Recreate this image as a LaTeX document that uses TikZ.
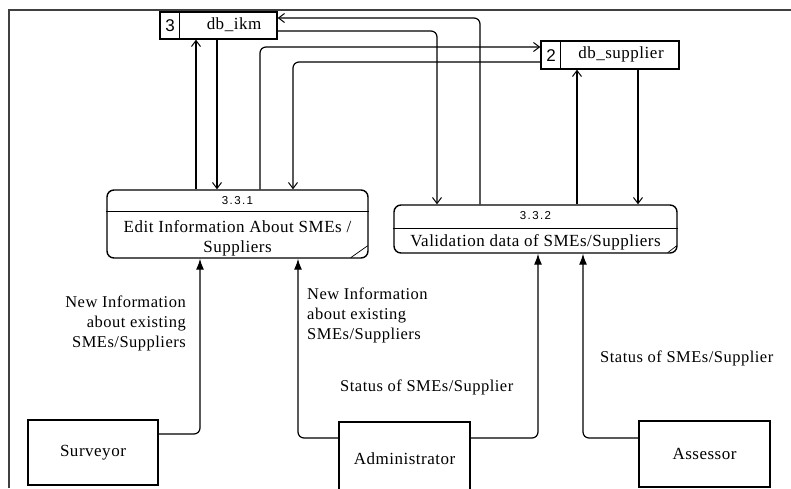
\documentclass[tikz,border=0pt]{standalone}
\usepackage{fontspec}
\setmainfont{Liberation Serif}
\newfontfamily\numfont{Liberation Sans}
\usetikzlibrary{arrows.meta}
\begin{document}
\begin{tikzpicture}[x=1pt,y=-1pt,
  box/.style={draw,line width=1.4pt,inner sep=0pt},
  storebox/.style={box,rectangle},
  procbox/.style={box,rectangle,rounded corners=7pt},
  entity/.style={box,rectangle},
  flow/.style={line width=1.2pt,rounded corners=6pt},
  barb/.style={-{Straight Barb[length=6pt,width=9pt,line width=1pt]}},
  toStore/.style={flow,barb},
  toProc/.style={flow,-{Latex[length=11pt,width=8pt]}},
  txt/.style={font=\fontsize{17}{20}\selectfont\addfontfeature{LetterSpace=3},inner sep=0pt},
  num/.style={font=\numfont\fontsize{11.5}{12}\selectfont\addfontfeature{LetterSpace=12},inner sep=0pt},
  lbl/.style={font=\fontsize{16.5}{20}\selectfont\addfontfeature{LetterSpace=3},inner sep=0pt,align=left}
]
\useasboundingbox (0,0) rectangle (791,488);
% frame
\draw[line width=1.5pt,black!75] (9,488) -- (9,10) -- (791,10);

% data stores
\node[storebox,minimum width=117pt,minimum height=27pt] (ikm) at (218.5,25.5) {};
\draw[line width=1.4pt] ([xshift=20pt]ikm.north west) -- ([xshift=20pt]ikm.south west);
\node[txt] (ikmid) at (170,26) {\numfont 3};
\node[txt] (ikmname) at (234,25) {db\_ikm};

\node[storebox,minimum width=138pt,minimum height=28pt] (sup) at (610,55) {};
\draw[line width=1.4pt] ([xshift=20pt]sup.north west) -- ([xshift=20pt]sup.south west);
\node[txt] (supid) at (551,56) {\numfont 2};
\node[txt] (supname) at (621,54) {db\_supplier};

% processes
\node[procbox,minimum width=261pt,minimum height=68pt] (p1) at (237.5,224) {};
\draw[line width=1.4pt] ([yshift=-22pt]p1.north west) -- ([yshift=-22pt]p1.north east);
\draw[line width=0.7pt] ([xshift=-18pt,yshift=1pt]p1.south east) -- ([xshift=-1pt,yshift=13pt]p1.south east);
\node[num] (p1id) at (237.5,201) {3.3.1};
\node[txt,align=center] (p1name) at (237.5,238) {Edit Information About SMEs /\\Suppliers};

\node[procbox,minimum width=283pt,minimum height=48pt] (p2) at (535.5,229) {};
\draw[line width=1.4pt] ([yshift=-24pt]p2.north west) -- ([yshift=-24pt]p2.north east);
\draw[line width=0.7pt] ([xshift=-10pt,yshift=1pt]p2.south east) -- ([xshift=-1pt,yshift=8pt]p2.south east);
\node[num] (p2id) at (535.5,216) {3.3.2};
\node[txt] (p2name) at (535.5,242) {Validation data of SMEs/Suppliers};

% external entities
\node[entity,minimum width=130pt,minimum height=65pt] (surv) at (93,452.5) {};
\node[txt] at (surv.center) {Surveyor};
\node[entity,minimum width=131pt,minimum height=74pt] (adm) at (404.5,459) {};
\node[txt] at (404.5,459) {Administrator};
\node[entity,minimum width=131pt,minimum height=66pt] (ass) at (704.5,454) {};
\node[txt] at (ass.center) {Assessor};

% store flows
\draw[toStore] (p2.north -| 480,0) -- (480,18) -- (ikm.east |- 0,18);
\draw[toStore] (ikm.east |- 0,31) -- (437,31) -- (p2.north -| 437,0);
\draw[toStore] (p1.north -| 260,0) -- (260,47) -- (sup.west |- 0,47);
\draw[toStore] (sup.west |- 0,62) -- (293,62) -- (p1.north -| 293,0);
\draw[toStore] (p1.north -| 196,0) -- (ikm.south -| 196,0);
\draw[toStore] (ikm.south -| 217,0) -- (p1.north -| 217,0);
\draw[toStore] (p2.north -| 577,0) -- (sup.south -| 577,0);
\draw[toStore] (sup.south -| 638,0) -- (p2.north -| 638,0);

% entity flows
\draw[toProc] (surv.east |- 0,434) -- (200,434) -- (p1.south -| 200,0);
\draw[toProc] (adm.west |- 0,438) -- (298,438) -- (p1.south -| 298,0);
\draw[toProc] (adm.east |- 0,438) -- (538,438) -- (p2.south -| 538,0);
\draw[toProc] (ass.west |- 0,438) -- (583,438) -- (p2.south -| 583,0);

% flow labels
\node[lbl,align=right,anchor=north east] (l1) at (186,296) {New Information\\about existing\\SMEs/Suppliers};
\node[lbl,anchor=north west] (l2) at (307,288) {New Information\\about existing\\SMEs/Suppliers};
\node[lbl,anchor=west] (l3) at (340,387) {Status of SMEs/Supplier};
\node[lbl,anchor=west] (l4) at (600,358) {Status of SMEs/Supplier};
\end{tikzpicture}
\end{document}
